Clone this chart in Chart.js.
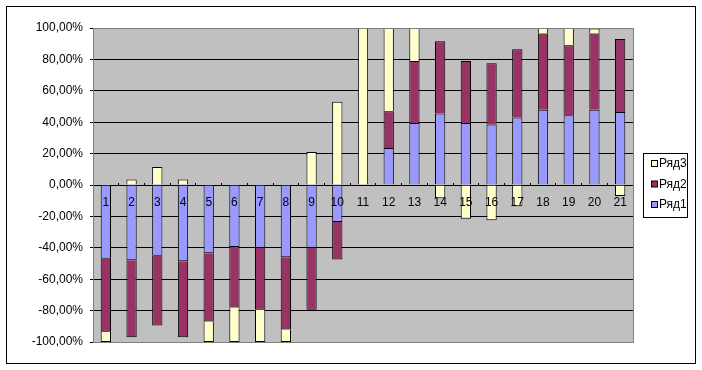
<!DOCTYPE html>
<html>
<head>
<meta charset="utf-8">
<script src="https://cdn.jsdelivr.net/npm/chart.js@4/dist/chart.umd.min.js"></script>
<style>
    html, body { margin: 0; padding: 0; background: #ffffff; }
    #wrap { width: 702px; height: 370px; }
</style>
</head>
<body>
<div id="wrap"><canvas id="stackChart" width="702" height="370"></canvas></div>
<script>
"use strict";
// Categories and series (percent values)
var categories = ["1", "2", "3", "4", "5", "6", "7", "8", "9", "10", "11",
    "12", "13", "14", "15", "16", "17", "18", "19", "20", "21"];
var seriesNames = ["Ряд1", "Ряд2", "Ряд3"];
var row1 = [-47, -48, -45, -48.5, -43.5, -39.5, -40, -46, -40, -23.5, 0,
    23.5, 39.5, 45.5, 39.5, 38.5, 43, 48, 44.5, 48, 46.5];
var row2 = [-46.5, -49, -44.5, -48.5, -43.5, -38.5, -39.5, -46, -39.5, -24, 0,
    23.5, 39.5, 46, 39.5, 39, 43.5, 48.5, 44.5, 48.5, 46.5];
var row3 = [-6.5, 3.5, 11.5, 3.5, -13, -22, -20.5, -8, 21, 53, 100,
    53, 21, -8.5, -21.5, -22.5, -13.5, 3.5, 11, 3.2, -7];
var yMin = -100, yMax = 100, yStep = 20;

var colors = ["#9999ff", "#993366", "#ffffcc"];
var fontFamily = "'Liberation Sans', Arial, sans-serif";

document.addEventListener("DOMContentLoaded", function () {
    // plot background + chart border + excel style legend box
    var excelFrame = {
        id: "excelFrame",
        beforeDraw: function (chart) {
            var ctx = chart.ctx, a = chart.chartArea;
            ctx.save();
            ctx.fillStyle = "#ffffff";
            ctx.fillRect(0, 0, chart.width, chart.height);
            ctx.fillStyle = "#c0c0c0";
            ctx.fillRect(a.left, a.top, a.right - a.left, a.bottom - a.top);
            ctx.restore();
        },
        afterDraw: function (chart) {
            var ctx = chart.ctx, a = chart.chartArea;
            ctx.save();
            ctx.lineWidth = 1;
            ctx.strokeStyle = "#808080";
            ctx.strokeRect(a.left + 0.5, a.top + 0.5, a.right - a.left, a.bottom - a.top);
            ctx.strokeStyle = "#000000";
            ctx.strokeRect(6.5, 6.5, 689, 357);

            // legend (reversed order like Excel)
            var lx = a.right + 10, ly = 153;
            ctx.fillStyle = "#ffffff";
            ctx.fillRect(lx + 0.5, ly + 0.5, 44, 64);
            ctx.strokeRect(lx + 0.5, ly + 0.5, 44, 64);
            ctx.font = "12px " + fontFamily;
            ctx.textBaseline = "middle";
            var ds = chart.data.datasets;
            for (var i = ds.length - 1, k = 0; i >= 0; i--, k++) {
                var cy = ly + 10 + k * 20.5;
                ctx.fillStyle = ds[i].backgroundColor;
                ctx.fillRect(lx + 8.5, cy - 2.5, 6, 6);
                ctx.strokeStyle = "#000000";
                ctx.strokeRect(lx + 8.5, cy - 2.5, 6, 6);
                ctx.fillStyle = "#000000";
                ctx.fillText(ds[i].label, lx + 16, cy + 1);
            }
            ctx.restore();
        }
    };

    var seriesData = [row1, row2, row3];
    var datasets = seriesNames.map(function (name, i) {
        return {
            label: name,
            data: seriesData[i],
            backgroundColor: colors[i],
            borderColor: "#000000",
            borderWidth: 1,
            borderSkipped: "start",
            barPercentage: 0.4,
            categoryPercentage: 1.0
        };
    });

    var CHART = document.getElementById("stackChart");
    var myChart = new Chart(CHART, {
        type: "bar",
        data: { labels: categories, datasets: datasets },
        plugins: [excelFrame],
        options: {
            responsive: false,
            animation: false,
            layout: { padding: { left: 0, right: 69, top: 28, bottom: 28 } },
            plugins: {
                legend: { display: false },
                tooltip: { enabled: false }
            },
            scales: {
                x: {
                    stacked: true,
                    position: { y: 0 },
                    grid: {
                        display: true,
                        offset: true,
                        drawOnChartArea: false,
                        color: "#000000",
                        tickLength: -3
                    },
                    border: { display: true, color: "#000000" },
                    ticks: {
                        z: 1,
                        color: "#000000",
                        padding: 13,
                        maxRotation: 0,
                        autoSkip: false,
                        font: { family: fontFamily, size: 12 }
                    }
                },
                y: {
                    stacked: true,
                    min: yMin,
                    max: yMax,
                    afterFit: function (scale) { scale.width = 93; },
                    grid: {
                        color: "#000000",
                        tickLength: 3
                    },
                    border: { display: false },
                    ticks: {
                        stepSize: yStep,
                        color: "#000000",
                        padding: 7,
                        font: { family: fontFamily, size: 12 },
                        callback: function (v) {
                            return v.toFixed(2).replace(".", ",") + "%";
                        }
                    }
                }
            }
        }
    });
});
</script>
</body>
</html>
